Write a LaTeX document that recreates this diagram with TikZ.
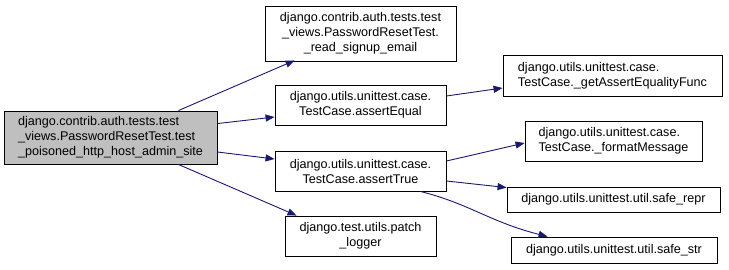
\documentclass[tikz,border=0pt]{standalone}
\usepackage{fontspec}
\setmainfont{Liberation Sans}
\usetikzlibrary{arrows.meta}
\definecolor{edgeblue}{HTML}{191970}
\definecolor{rootgray}{HTML}{BFBFBF}
\tikzset{
  fn/.style={draw=black, fill=white, line width=0.9pt, inner sep=0pt,
    font=\fontsize{12.6}{15}\selectfont, align=center},
  rootfn/.style={fn, fill=rootgray, align=left},
  call/.style={draw=edgeblue, line width=0.9pt,
    -{Triangle[length=9pt,width=7pt]}},
}
\begin{document}
\begin{tikzpicture}[x=1pt,y=-1pt]
\useasboundingbox (0,0) rectangle (729,269);
% function boxes
\node[rootfn, minimum width=213pt, minimum height=53pt] (root) at (110.5,137.5)
  {django.contrib.auth.tests.test\\\_views.PasswordResetTest.test\\\_poisoned\_http\_host\_admin\_site};
\node[fn, minimum width=191pt, minimum height=55pt] (sig) at (360.5,33.5)
  {django.contrib.auth.tests.test\\\_views.PasswordResetTest.\\\_read\_signup\_email};
\node[fn, minimum width=171pt, minimum height=40pt] (aeq) at (360.5,105)
  {django.utils.unittest.case.\\TestCase.assertEqual};
\node[fn, minimum width=171pt, minimum height=40pt] (atr) at (360.5,171)
  {django.utils.unittest.case.\\TestCase.assertTrue};
\node[fn, minimum width=151pt, minimum height=40pt] (plog) at (360.5,236)
  {django.test.utils.patch\\\_logger};
\node[fn, align=left, minimum width=219pt, minimum height=41pt] (gaef) at (612.5,75.5)
  {django.utils.unittest.case.\\TestCase.\_getAssertEqualityFunc};
\node[fn, align=left, minimum width=177pt, minimum height=40pt] (fmsg) at (613.5,141)
  {django.utils.unittest.case.\\TestCase.\_formatMessage};
\node[fn, minimum width=213pt, minimum height=25pt] (srepr) at (613.5,199.5)
  {django.utils.unittest.util.safe\_repr};
\node[fn, minimum width=206pt, minimum height=26pt] (sstr) at (614,250)
  {django.utils.unittest.util.safe\_str};
% calls
\draw[call] ([xshift=-39pt]root.north east) -- ([xshift=30pt,yshift=1pt]sig.south west);
\draw[call] ([yshift=-13pt]root.north east) -- ([yshift=-12pt]aeq.west);
\draw[call] ([yshift=-14.5pt]root.east) -- ([yshift=12pt]atr.west);
\draw[call] ([xshift=-39pt]root.south east) -- ([xshift=12pt]plog.north west);
\draw[call] ([yshift=9pt]aeq.east) -- ([yshift=-12.5pt]gaef.west);
\draw[call] ([yshift=10pt]atr.east) -- ([yshift=-2pt]fmsg.west);
\draw[call] ([yshift=-10pt]atr.east) -- ([yshift=-1pt]srepr.north west);
\draw[call] ([xshift=-26pt]atr.south east) .. controls (470,204) and (490,222) .. ([xshift=37pt]sstr.north west);
\end{tikzpicture}
\end{document}
